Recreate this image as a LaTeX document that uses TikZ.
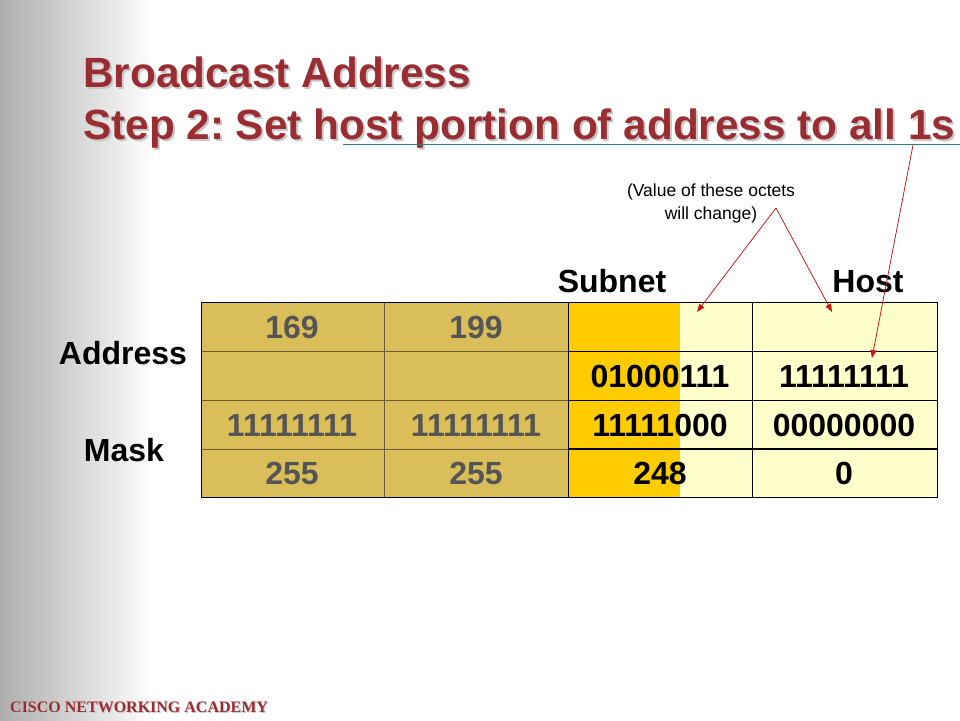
\documentclass[tikz,border=0pt]{standalone}
\usepackage{fontspec}
\setmainfont{Liberation Sans}
\newfontfamily\footfont{Liberation Serif}
\usetikzlibrary{arrows.meta}
\frenchspacing

\definecolor{titlered}{RGB}{153,45,50}
\definecolor{titleshadow}{RGB}{200,200,200}
\definecolor{ruleteal}{RGB}{40,130,125}
\definecolor{cellgold}{RGB}{217,190,90}
\definecolor{cellorange}{RGB}{255,204,0}
\definecolor{cellpale}{RGB}{255,255,204}
\definecolor{goldline}{RGB}{105,92,55}
\definecolor{digitgray}{RGB}{85,85,85}
\definecolor{pointred}{RGB}{200,20,20}

% text with a soft drop shadow
\newcommand{\shadowed}[2]{\makebox[0pt][l]{\hspace{#1}\raisebox{-#1}{\color{titleshadow}#2}}#2}

\tikzset{
  titletext/.style={anchor=base west,inner sep=0pt,text=titlered,font=\fontsize{42.3}{50}\selectfont\bfseries},
  foottext/.style={anchor=base west,inner sep=0pt,text=titlered,font=\footfont\fontsize{16}{18}\selectfont\bfseries},
  bigtext/.style={font=\fontsize{32}{38}\selectfont\bfseries},
  pointer/.style={->,draw=pointred,fill=pointred,line width=0.7pt}
}

\begin{document}
\begin{tikzpicture}[x=1pt,y=-1pt,>={Triangle[length=8pt,width=6pt]}]
	
	% Page and bounding box
	\fill[white] (0,0) rectangle (960,720);
	\useasboundingbox (0,0) rectangle (960,720);
	\shade[left color=black!32, right color=white] (0,0) rectangle (155,720);
	
	%------------------------------
	% Title
	%------------------------------
	\node[titletext] (titleA) at (83,87) {\shadowed{2pt}{Broadcast Address}};
	\node[titletext] (titleB) at (83,139) {\shadowed{2pt}{Step 2: Set host portion of address to all 1s}};
	% Underline
	\draw[ruleteal,line width=1pt] (343,144) -- (960,144);
	
	%------------------------------
	% Table
	%------------------------------
	\fill[cellgold] (201,302) rectangle (568,497);
	\fill[cellorange] (568,302) rectangle (680,497);
	\fill[cellpale] (680,302) rectangle (937,497);
	
	% Grid lines
	\foreach \y in {351,400,449}
	\draw[goldline,line width=0.7pt] (201,\y) -- (568,\y);
	\draw[goldline,line width=0.7pt] (384,302) -- (384,497);
	\foreach \y in {351,400}
	\draw[line width=0.8pt] (568,\y) -- (937,\y);
	\draw[line width=1.6pt] (568,449) -- (937,449);
	\draw[line width=0.8pt] (568,302) -- (568,497);
	\draw[line width=0.8pt] (752,302) -- (752,497);
	\draw[line width=1pt] (201,302) rectangle (937,497);
	
	% Network octets (fixed)
	\foreach \name/\x/\y/\val in {c11/292/327/169, c12/476/327/199,
		c31/292/425/11111111, c32/476/425/11111111,
		c41/292/473/255, c42/476/473/255}
	\node[bigtext,text=digitgray] (\name) at (\x,\y) {\val};
	
	% Subnet and host octets
	\foreach \name/\x/\y/\val in {c23/660/376/01000111, c24/844/376/11111111,
		c33/660/425/11111000, c34/844/425/00000000,
		c43/660/473/248, c44/844/473/0}
	\node[bigtext] (\name) at (\x,\y) {\val};
	
	% Headings
	\node[bigtext,anchor=base] (subnet) at (612,292) {Subnet};
	\node[bigtext,anchor=base] (host) at (868,292) {Host};
	\node[bigtext] (address) at (123,353) {Address};
	\node[bigtext] (mask) at (124,450) {Mask};
	
	%------------------------------
	% Note and pointers
	%------------------------------
	\node[align=center,font=\fontsize{17.5}{23}\selectfont] (note) at (711,203)
	{(Value of these octets\\ will change)};
	
	\coordinate (notetip) at (776,208);
	\coordinate (subtip) at (697,312);
	\coordinate (hosttip) at (832,312);
	\coordinate (ruletip) at (913,145);
	\coordinate (bintip) at (872,358);
	\draw[pointer] (notetip) -- (subtip);
	\draw[pointer] (notetip) -- (hosttip);
	\draw[pointer] (ruletip) -- (bintip);
	
	% Footer
	\node[foottext] (foot) at (10,712) {\shadowed{1pt}{CISCO NETWORKING ACADEMY}};
	
\end{tikzpicture}
\end{document}
